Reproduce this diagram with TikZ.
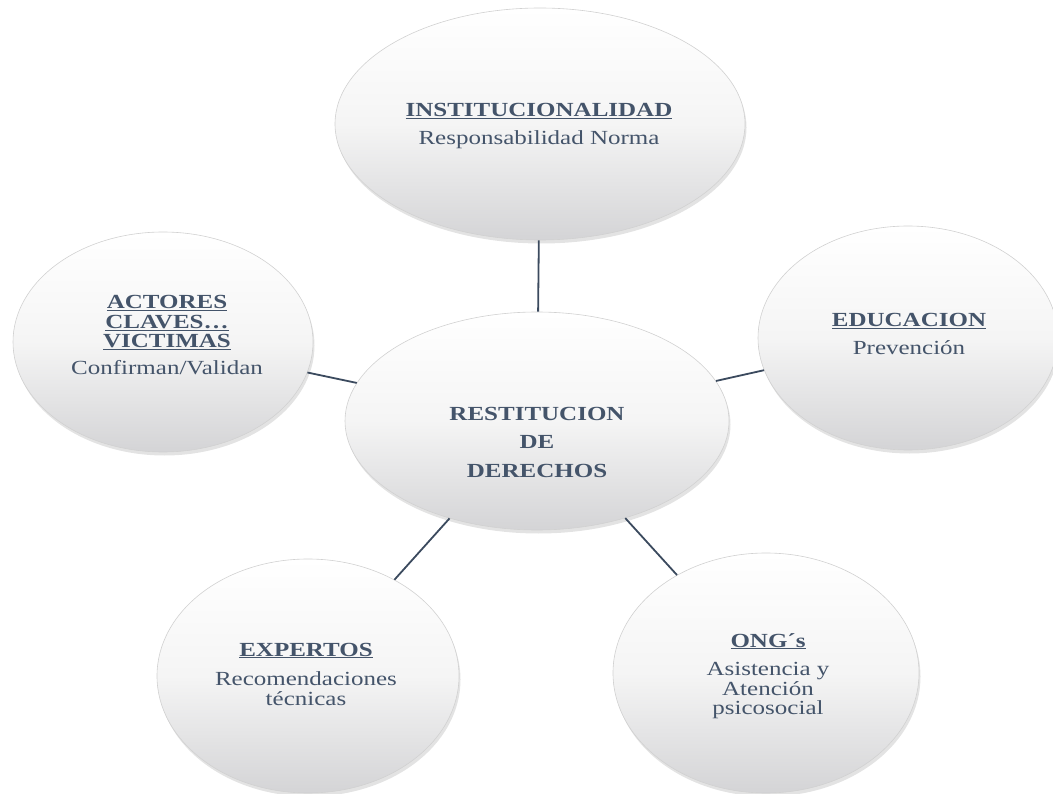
\documentclass[tikz,border=0pt]{standalone}
\usepackage{fontspec}
\setmainfont{Liberation Serif}[FakeStretch=1.25]
\usetikzlibrary{shapes.geometric,shadows}
\definecolor{txtc}{RGB}{68,84,106}
\definecolor{linec}{RGB}{59,74,94}
\definecolor{shadeb}{RGB}{212,212,214}
\begin{document}
\begin{tikzpicture}[x=1pt,y=-1pt,
  bubble/.style={ellipse, inner sep=0pt, draw=black!18, line width=0.6pt,
    top color=white, bottom color=shadeb, middle color=white!96!black,
    drop shadow={opacity=0.22, shadow xshift=1.5pt, shadow yshift=-3.5pt}},
  lbl/.style={align=center, text=txtc, inner sep=0pt,
    font=\fontsize{20}{19.5}\selectfont},
  conn/.style={draw=linec, line width=1.8pt}]
\useasboundingbox (0,0) rectangle (1053,794);
\clip (0,0) rectangle (1053,794);
% ellipses
\node[bubble, minimum width=410pt, minimum height=232pt] (inst) at (540,124) {};
\node[bubble, minimum width=300pt, minimum height=220pt] (act) at (163,342) {};
\node[bubble, minimum width=300pt, minimum height=224pt] (edu) at (908,338) {};
\node[bubble, minimum width=302pt, minimum height=234pt] (exp) at (308,676) {};
\node[bubble, minimum width=306pt, minimum height=240pt] (ong) at (766,673) {};
\node[bubble, minimum width=384pt, minimum height=218pt] (rest) at (537,421) {};
% connectors
\draw[conn] (rest) -- (inst);
\draw[conn] (rest) -- (act);
\draw[conn] (rest) -- (edu);
\draw[conn] (rest) -- (exp);
\draw[conn] (rest) -- (ong);
% texts
\node[lbl] (tinst) at (539,126) {\underline{\textbf{INSTITUCIONALIDAD}}\\[8pt]Responsabilidad Norma};
\node[lbl] (trest) at (537,442) {\textbf{RESTITUCION}\\[9pt]\textbf{DE}\\[9pt]\textbf{DERECHOS}};
\node[lbl] (tact) at (167,335) {\underline{\textbf{ACTORES}}\\\underline{\textbf{CLAVES…}}\\\underline{\textbf{VICTIMAS}}\\[7pt]Confirman/Validan};
\node[lbl] (tedu) at (909,334) {\underline{\textbf{EDUCACION}}\\[8pt]Prevención};
\node[lbl] (texp) at (306,674) {\underline{\textbf{EXPERTOS}}\\[10pt]Recomendaciones\\técnicas};
\node[lbl] (tong) at (768,676) {\underline{\textbf{ONG´s}}\\[9pt]Asistencia y\\Atención\\psicosocial};
\end{tikzpicture}
\end{document}
